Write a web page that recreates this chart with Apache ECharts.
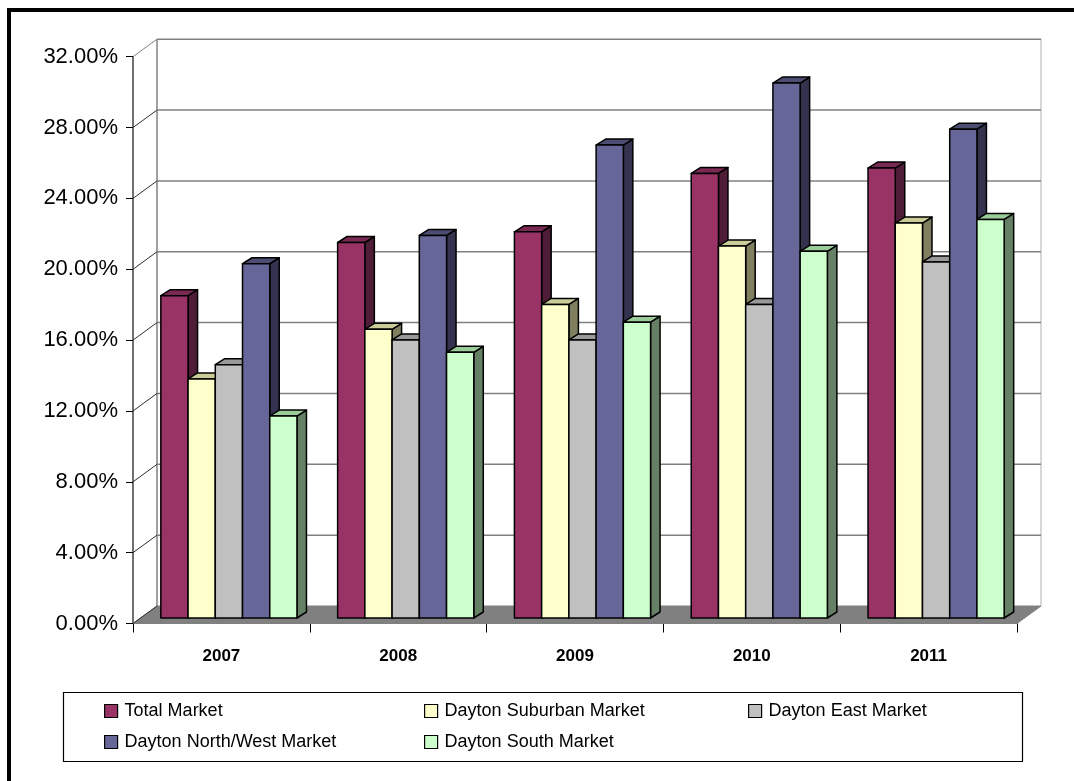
<!DOCTYPE html>
<html>
<head>
<meta charset="utf-8">
<script src="https://cdn.jsdelivr.net/npm/echarts@6/dist/echarts.min.js"></script>
<style>
html,body{margin:0;padding:0;background:#fff;}
#chart{width:1074px;height:781px;}
</style>
</head>
<body>
<div id="chart"></div>
<script>
const categories = ['2007', '2008', '2009', '2010', '2011'];
const seriesNames = ['Total Market', 'Dayton Suburban Market', 'Dayton East Market', 'Dayton North/West Market', 'Dayton South Market'];
const totalMarket = [18.2, 21.2, 21.8, 25.1, 25.4];
const suburbanMarket = [13.5, 16.3, 17.7, 21.0, 22.3];
const eastMarket = [14.3, 15.7, 15.7, 17.7, 20.1];
const northWestMarket = [20.0, 21.6, 26.7, 30.2, 27.6];
const southMarket = [11.4, 15.0, 16.7, 20.7, 22.5];
const yTicks = [0, 4, 8, 12, 16, 20, 24, 28, 32];

const seriesValues = [totalMarket, suburbanMarket, eastMarket, northWestMarket, southMarket];
const faceColors = [
  {front: '#993366', top: '#7a2952', side: '#4f1d38'},
  {front: '#ffffcc', top: '#cccc99', side: '#808060'},
  {front: '#c0c0c0', top: '#999999', side: '#606060'},
  {front: '#666699', top: '#4d4d73', side: '#333350'},
  {front: '#ccffcc', top: '#99cc99', side: '#668066'}
];

// 3D projection constants (layout)
const WALL_DX = 24, WALL_DY = -17.5;
const BAR_SHIFT_X = 7.5, BAR_SHIFT_Y = -5.5;
const BAR_DEPTH_X = 9.5, BAR_DEPTH_Y = -6;
const BAR_FRAC = 0.154;
const NARROW = "'Liberation Sans Narrow','Arial Narrow','Liberation Sans',Arial,sans-serif";
const ARIAL = "'Liberation Sans',Arial,sans-serif";

function wallRender(params, api) {
  const cs = params.coordSys;
  const v = api.value(1);
  const p = api.coord([0, v]);
  const y = p[1];
  const left = cs.x, right = cs.x + cs.width;
  const children = [];
  if (v === 0) {
    children.push({
      type: 'polygon',
      shape: {points: [[left, y], [right, y], [right + WALL_DX, y + WALL_DY], [left + WALL_DX, y + WALL_DY]]},
      style: {fill: '#808080', stroke: '#808080', lineWidth: 1}
    });
    const topY = api.coord([0, yTicks[yTicks.length - 1]])[1];
    children.push({
      type: 'line',
      shape: {x1: left + WALL_DX, y1: topY + WALL_DY, x2: left + WALL_DX, y2: y + WALL_DY},
      style: {stroke: '#808080', lineWidth: 1.5}
    });
    children.push({
      type: 'line',
      shape: {x1: right + WALL_DX, y1: topY + WALL_DY, x2: right + WALL_DX, y2: y + WALL_DY},
      style: {stroke: '#b0b0b0', lineWidth: 1}
    });
  } else {
    children.push({
      type: 'line',
      shape: {x1: left + WALL_DX, y1: y + WALL_DY, x2: right + WALL_DX, y2: y + WALL_DY},
      style: {stroke: '#808080', lineWidth: 1.5}
    });
  }
  children.push({
    type: 'line',
    shape: {x1: left, y1: y, x2: left + WALL_DX, y2: y + WALL_DY},
    style: {stroke: v === 32 ? '#808080' : '#303030', lineWidth: 1}
  });
  return {type: 'group', children: children};
}

function makeBarRender(idx) {
  const col = faceColors[idx];
  return function (params, api) {
    const c = api.value(0);
    const v = api.value(1);
    const base = api.coord([c, 0]);
    const top = api.coord([c, v]);
    const catW = api.size([1, 0])[0];
    const bw = catW * BAR_FRAC;
    const x0 = base[0] + BAR_SHIFT_X + (idx - 2.5) * bw;
    const x1 = x0 + bw;
    const yb = base[1] + BAR_SHIFT_Y;
    const yt = top[1] + BAR_SHIFT_Y;
    const st = {stroke: '#000', lineWidth: 1.5, lineJoin: 'round'};
    return {
      type: 'group',
      children: [
        {type: 'polygon', shape: {points: [[x1, yb], [x1 + BAR_DEPTH_X, yb + BAR_DEPTH_Y], [x1 + BAR_DEPTH_X, yt + BAR_DEPTH_Y], [x1, yt]]},
          style: Object.assign({fill: col.side}, st)},
        {type: 'polygon', shape: {points: [[x0, yt], [x1, yt], [x1 + BAR_DEPTH_X, yt + BAR_DEPTH_Y], [x0 + BAR_DEPTH_X, yt + BAR_DEPTH_Y]]},
          style: Object.assign({fill: col.top}, st)},
        {type: 'rect', shape: {x: x0, y: yt, width: bw, height: yb - yt},
          style: Object.assign({fill: col.front}, st)}
      ]
    };
  };
}

const chart = echarts.init(document.getElementById('chart'), null, {renderer: 'canvas'});

const series = [{
  type: 'custom',
  name: 'wall',
  z: 1,
  silent: true,
  clip: false,
  renderItem: wallRender,
  data: yTicks.map(v => [0, v])
}];
seriesNames.forEach((name, i) => {
  series.push({
    type: 'custom',
    name: name,
    z: 2,
    clip: false,
    itemStyle: {color: faceColors[i].front, borderColor: '#000', borderWidth: 1},
    renderItem: makeBarRender(i),
    data: categories.map((c, j) => [j, seriesValues[i][j]])
  });
});

// legend item positions (layout)
const legendPos = [[104, 702], [424, 702], [748, 702], [104, 733], [424, 733]];
const legends = seriesNames.map((name, i) => ({
  left: legendPos[i][0],
  top: legendPos[i][1],
  padding: 0,
  data: [name],
  icon: 'rect',
  itemWidth: 13,
  itemHeight: 13,
  selectedMode: false,
  itemStyle: {borderColor: '#000', borderWidth: 1.2},
  textStyle: {fontFamily: NARROW, fontSize: 18, color: '#000', padding: [0, 0, 0, 2]}
}));

chart.setOption({
  animation: false,
  backgroundColor: '#fff',
  grid: {left: 133, right: 57, top: 56.7, bottom: 157.5, containLabel: false},
  xAxis: {
    type: 'category',
    data: categories,
    axisLine: {show: true, lineStyle: {color: '#000', width: 1}},
    axisTick: {show: true, length: 9, lineStyle: {color: '#000'}},
    axisLabel: {fontFamily: NARROW, fontWeight: 'bold', fontSize: 17, color: '#000', margin: 24},
    splitLine: {show: false}
  },
  yAxis: {
    type: 'value',
    min: 0,
    max: 32,
    interval: 4,
    axisLine: {show: true, lineStyle: {color: '#404040', width: 1.5}},
    axisTick: {show: true, length: 7, lineStyle: {color: '#000'}},
    axisLabel: {fontFamily: ARIAL, fontSize: 22, color: '#000', margin: 15,
      formatter: v => v.toFixed(2) + '%'},
    splitLine: {show: false}
  },
  legend: legends,
  graphic: [
    {type: 'rect', shape: {x: 63.5, y: 692.5, width: 959, height: 69}, style: {fill: 'none', stroke: '#000', lineWidth: 1.2}, z: 0},
    {type: 'polyline', shape: {points: [[9, 781], [9, 10], [1074, 10]]}, style: {fill: 'none', stroke: '#000', lineWidth: 4}, z: 10}
  ],
  series: series
});
</script>
</body>
</html>
